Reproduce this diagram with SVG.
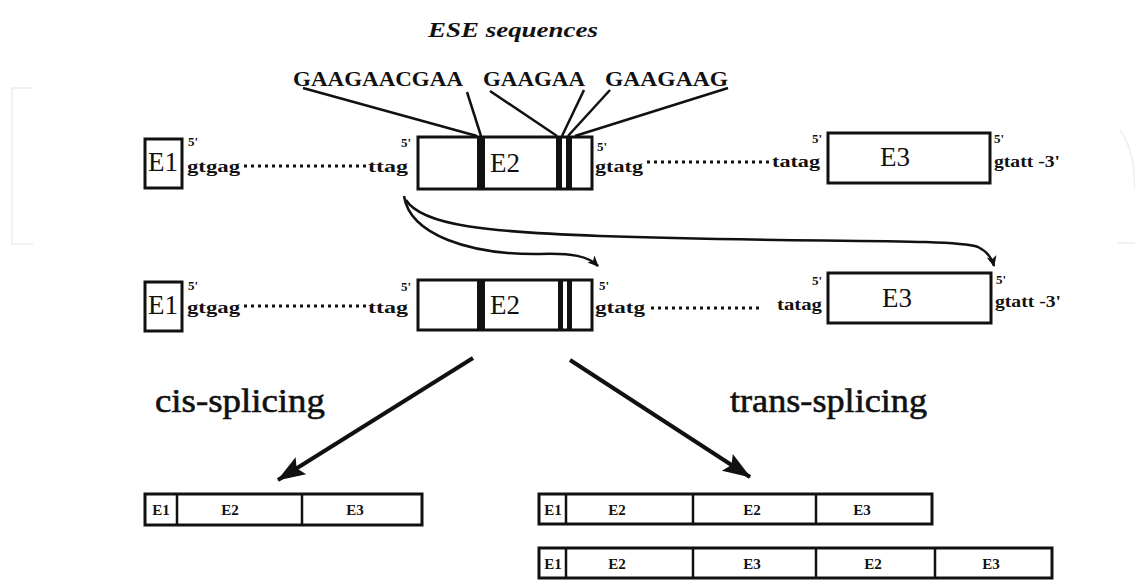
<svg xmlns="http://www.w3.org/2000/svg" width="1135" height="581" viewBox="0 0 1135 581">
<style>
.box{fill:#fff;stroke:#111;stroke-width:3}
.bar{fill:#111}
.t{font-family:"Liberation Serif",serif;fill:#111}
.ex{font-size:27px}
.seq{font-size:17px;font-weight:bold}
.p5{font-size:13px;font-weight:bold}
.dot{stroke:#111;stroke-width:3;stroke-dasharray:3 4}
.ln{stroke:#111;stroke-width:2.5;fill:none}
.cur{stroke:#111;stroke-width:2.5;fill:none}
.big{stroke:#111;stroke-width:4;fill:none}
.sm{font-size:15px;font-weight:bold}
.lab{font-size:34px;stroke:#111;stroke-width:0.6}
.wm{stroke:#f0f0f0;stroke-width:2;fill:none}
</style>
<defs>
<marker id="ah" markerWidth="12" markerHeight="12" refX="10" refY="6" orient="auto" markerUnits="userSpaceOnUse">
<path d="M0,1 L11,6 L0,11 L3,6 Z" fill="#111"/>
</marker>
<marker id="bh" markerWidth="30" markerHeight="24" refX="27" refY="12" orient="auto" markerUnits="userSpaceOnUse">
<path d="M0,2 L28,12 L0,22 L5,12 Z" fill="#111"/>
</marker>
</defs>
<rect width="1135" height="581" fill="#fff"/>
<g id="watermark">
<path class="wm" d="M33,88 L12,88 L12,244 L33,244"/>
<path class="wm" d="M1120,130 Q1135,150 1135,190 M1118,243 L1135,243"/>
</g>
<g id="title">
<text class="t" x="428" y="37" font-size="22" font-style="italic" font-weight="bold" textLength="170" lengthAdjust="spacingAndGlyphs">ESE sequences</text>
<text class="t" x="293" y="86" font-size="20" font-weight="bold" textLength="170" lengthAdjust="spacingAndGlyphs">GAAGAACGAA</text>
<text class="t" x="483" y="86" font-size="20" font-weight="bold" textLength="102" lengthAdjust="spacingAndGlyphs">GAAGAA</text>
<text class="t" x="605" y="86" font-size="20" font-weight="bold" textLength="123" lengthAdjust="spacingAndGlyphs">GAAGAAG</text>
</g>
<g id="row1">
<rect class="box" x="145" y="139" width="37" height="49"/>
<text class="t ex" x="163" y="171" text-anchor="middle">E1</text>
<text class="t p5" x="188" y="146">5'</text>
<text class="t seq" x="187" y="172" textLength="53" lengthAdjust="spacingAndGlyphs">gtgag</text>
<line class="dot" x1="244" y1="166" x2="366" y2="166"/>
<text class="t seq" x="368" y="172" textLength="40" lengthAdjust="spacingAndGlyphs">ttag</text>
<text class="t p5" x="401" y="147">5'</text>
<rect class="box" x="418" y="137" width="174" height="52"/>
<rect class="bar" x="477" y="137" width="8" height="52"/>
<rect class="bar" x="556" y="137" width="6" height="52"/>
<rect class="bar" x="566" y="137" width="6" height="52"/>
<text class="t ex" x="505" y="172" text-anchor="middle">E2</text>
<text class="t p5" x="597" y="151">5'</text>
<text class="t seq" x="595" y="172" textLength="48" lengthAdjust="spacingAndGlyphs">gtatg</text>
<line class="dot" x1="647" y1="162" x2="769" y2="162"/>
<text class="t seq" x="772" y="167" textLength="48" lengthAdjust="spacingAndGlyphs">tatag</text>
<text class="t p5" x="812" y="143">5'</text>
<rect class="box" x="828" y="133" width="162" height="50"/>
<text class="t ex" x="895" y="166" text-anchor="middle">E3</text>
<text class="t p5" x="994" y="143">5'</text>
<text class="t seq" x="994" y="167" textLength="66" lengthAdjust="spacingAndGlyphs">gtatt -3'</text>
</g>
<g id="row2">
<rect class="box" x="145" y="282" width="37" height="49"/>
<text class="t ex" x="163" y="314" text-anchor="middle">E1</text>
<text class="t p5" x="188" y="290">5'</text>
<text class="t seq" x="187" y="313" textLength="53" lengthAdjust="spacingAndGlyphs">gtgag</text>
<line class="dot" x1="244" y1="306" x2="366" y2="306"/>
<text class="t seq" x="368" y="313" textLength="40" lengthAdjust="spacingAndGlyphs">ttag</text>
<text class="t p5" x="401" y="291">5'</text>
<rect class="box" x="418" y="280" width="174" height="50"/>
<rect class="bar" x="477" y="280" width="8" height="50"/>
<rect class="bar" x="558" y="280" width="5" height="50"/>
<rect class="bar" x="567" y="280" width="5" height="50"/>
<text class="t ex" x="505" y="314" text-anchor="middle">E2</text>
<text class="t p5" x="599" y="290">5'</text>
<text class="t seq" x="595" y="313" textLength="50" lengthAdjust="spacingAndGlyphs">gtatg</text>
<line class="dot" x1="651" y1="308" x2="760" y2="308"/>
<text class="t seq" x="777" y="310" textLength="45" lengthAdjust="spacingAndGlyphs">tatag</text>
<text class="t p5" x="812" y="285">5'</text>
<rect class="box" x="828" y="273" width="163" height="50"/>
<text class="t ex" x="897" y="307" text-anchor="middle">E3</text>
<text class="t p5" x="996" y="284">5'</text>
<text class="t seq" x="995" y="307" textLength="66" lengthAdjust="spacingAndGlyphs">gtatt -3'</text>
</g>
<g id="labels">
<text class="t lab" x="155" y="412" textLength="170" lengthAdjust="spacingAndGlyphs">cis-splicing</text>
<text class="t lab" x="730" y="412" textLength="197" lengthAdjust="spacingAndGlyphs">trans-splicing</text>
</g>
<g id="cis-product">
<rect class="box" x="145" y="494" width="277" height="31"/>
<line class="ln" x1="177" y1="494" x2="177" y2="525"/>
<line class="ln" x1="302" y1="494" x2="302" y2="525"/>
<text class="t sm" x="161" y="515" text-anchor="middle">E1</text>
<text class="t sm" x="230" y="515" text-anchor="middle">E2</text>
<text class="t sm" x="355" y="515" text-anchor="middle">E3</text>
</g>
<g id="trans-product-1">
<rect class="box" x="539" y="494" width="393" height="30"/>
<line class="ln" x1="566" y1="494" x2="566" y2="524"/>
<line class="ln" x1="693" y1="494" x2="693" y2="524"/>
<line class="ln" x1="816" y1="494" x2="816" y2="524"/>
<text class="t sm" x="553" y="515" text-anchor="middle">E1</text>
<text class="t sm" x="617" y="515" text-anchor="middle">E2</text>
<text class="t sm" x="752" y="515" text-anchor="middle">E2</text>
<text class="t sm" x="862" y="515" text-anchor="middle">E3</text>
</g>
<g id="trans-product-2">
<rect class="box" x="539" y="548" width="513" height="30"/>
<line class="ln" x1="566" y1="548" x2="566" y2="578"/>
<line class="ln" x1="693" y1="548" x2="693" y2="578"/>
<line class="ln" x1="816" y1="548" x2="816" y2="578"/>
<line class="ln" x1="935" y1="548" x2="935" y2="578"/>
<text class="t sm" x="553" y="569" text-anchor="middle">E1</text>
<text class="t sm" x="617" y="569" text-anchor="middle">E2</text>
<text class="t sm" x="752" y="569" text-anchor="middle">E3</text>
<text class="t sm" x="873" y="569" text-anchor="middle">E2</text>
<text class="t sm" x="991" y="569" text-anchor="middle">E3</text>
</g>
<g id="connectors">
<line class="ln" x1="303" y1="88" x2="477" y2="136"/>
<line class="ln" x1="467" y1="92" x2="481" y2="136"/>
<line class="ln" x1="490" y1="91" x2="557" y2="136"/>
<line class="ln" x1="584" y1="90" x2="562" y2="136"/>
<line class="ln" x1="610" y1="90" x2="568" y2="136"/>
<line class="ln" x1="728" y1="88" x2="575" y2="136"/>
<path class="cur" d="M404,196 C410,235 470,255 540,254 C572,253 588,256 598,266" marker-end="url(#ah)"/>
<path class="cur" d="M406,200 C422,226 490,232 600,236 C800,243 950,238 978,247 C988,252 992,258 994,266" marker-end="url(#ah)"/>
<line class="big" x1="473" y1="358" x2="278" y2="480" marker-end="url(#bh)"/>
<line class="big" x1="570" y1="360" x2="750" y2="477" marker-end="url(#bh)"/>
</g>
</svg>
